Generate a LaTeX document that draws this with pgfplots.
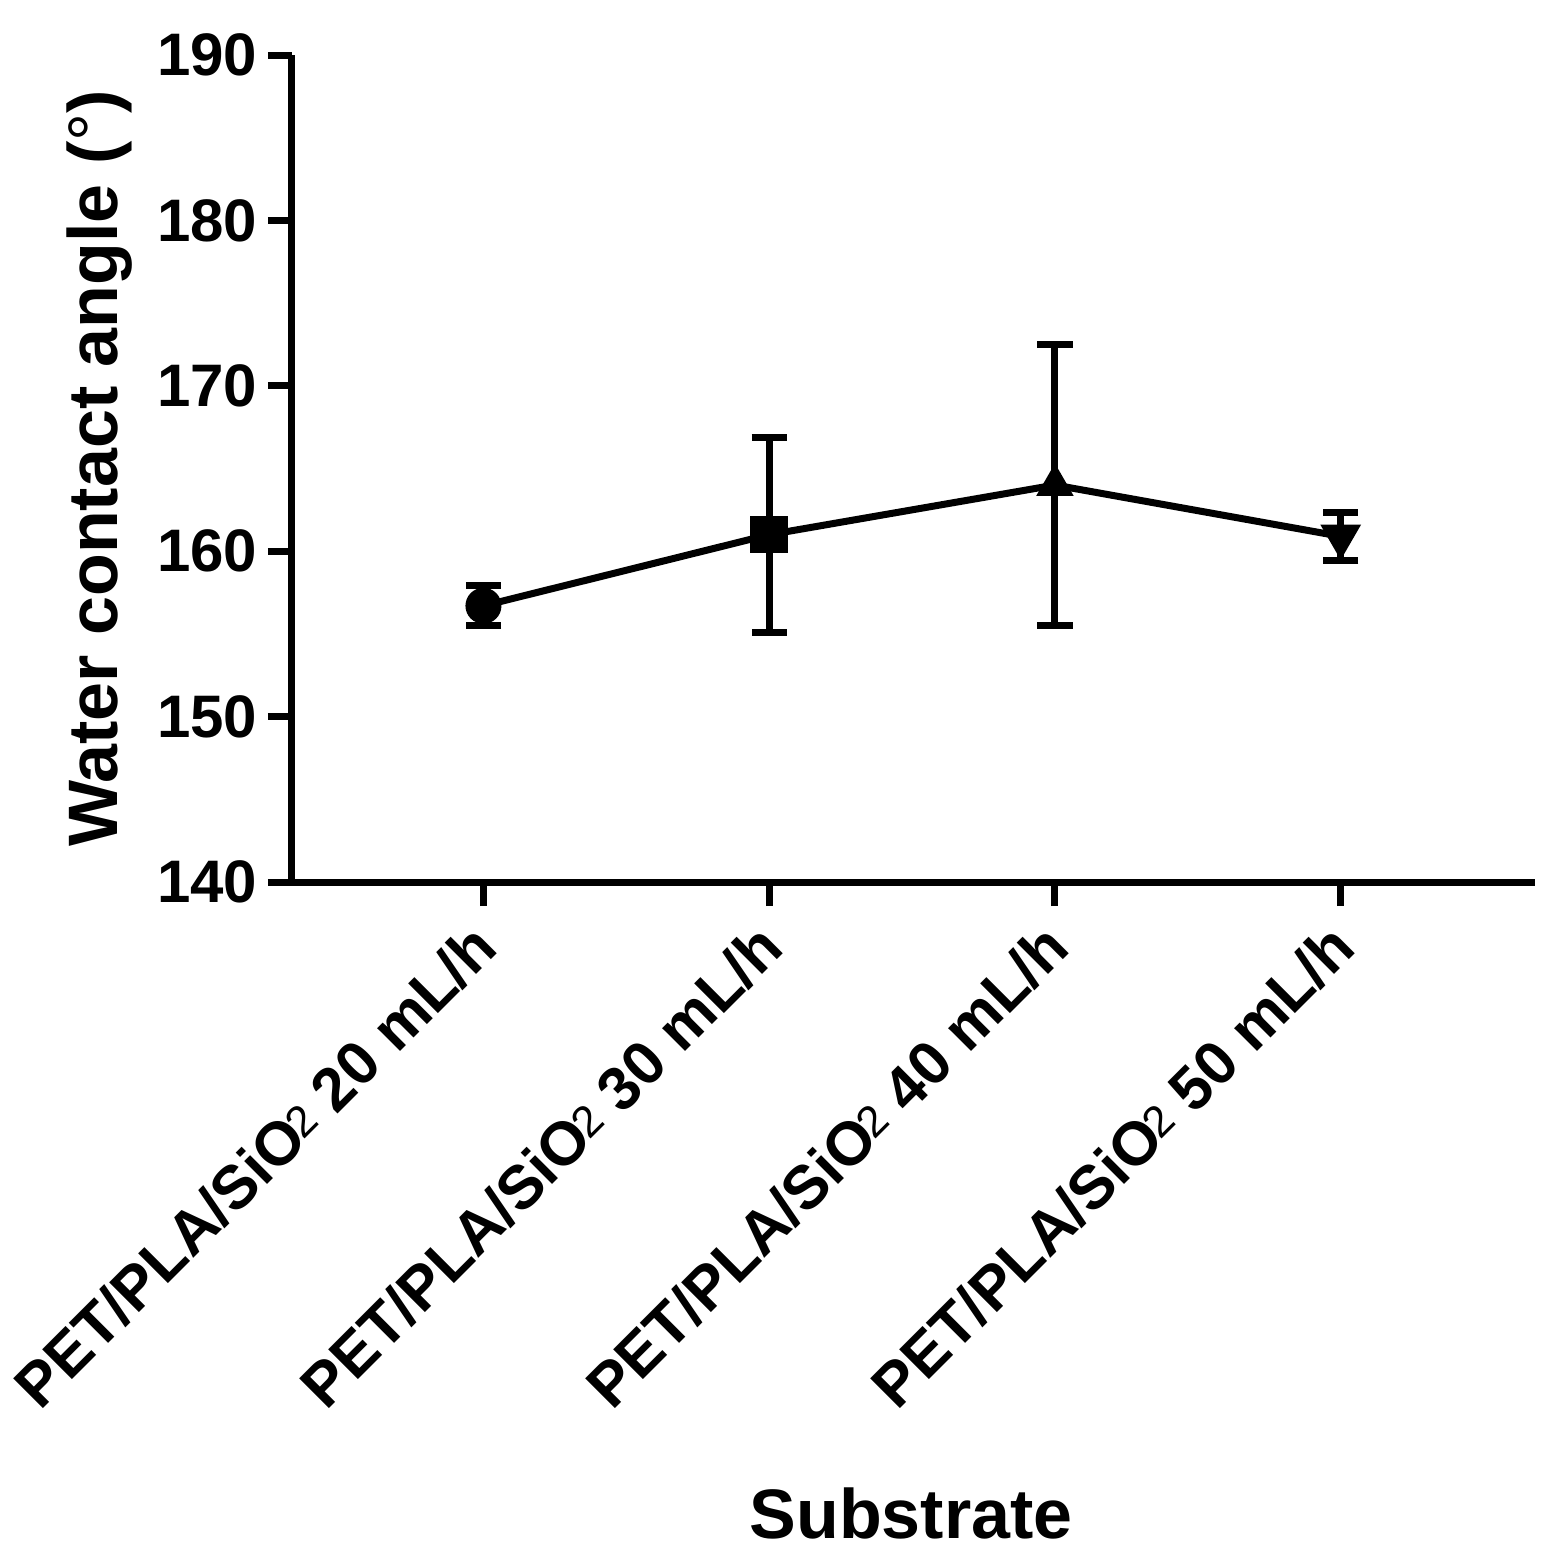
\documentclass[border=0pt]{standalone}
\usepackage{fontspec}
\setmainfont{Liberation Sans}
\usepackage{pgfplots}
\pgfplotsset{compat=1.18}
\newcommand{\sub}{\kern-0.8pt\raisebox{1.5pt}{\fontsize{11}{11}\selectfont\mdseries 2}}
\begin{document}
\begin{tikzpicture}
\path[use as bounding box] (-73pt,-168pt) rectangle (317.75pt,220.5pt);
\begin{axis}[
  at={(0,0)}, anchor=south west,
  scale only axis, width=310.75pt, height=206.75pt,
  xmin=-0.67, xmax=3.68, ymin=140, ymax=190,
  axis lines=left, axis line style={line width=1.75pt, -},
  xtick={0,1,2,3},
  xticklabels={PET/PLA/SiO\sub{} 20 mL/h, PET/PLA/SiO\sub{} 30 mL/h, PET/PLA/SiO\sub{} 40 mL/h, PET/PLA/SiO\sub{} 50 mL/h},
  ytick={140,150,...,190},
  tick align=outside, major tick length=6pt,
  tick style={line width=1.75pt, black},
  /pgf/number format/assume math mode=true,
  xticklabel style={font=\fontsize{15.3}{15.3}\selectfont\bfseries, xshift=2pt, yshift=-6pt, rotate=45, anchor=east, inner sep=2pt},
  yticklabel style={font=\fontsize{15}{15}\selectfont\bfseries, inner sep=2.5pt},
  ylabel={Water contact angle ({\mdseries °})},
  ylabel style={at={(axis description cs:-0.1545,0.5)}, anchor=center, font=\fontsize{17.5}{17.5}\selectfont\bfseries},
  xlabel={Substrate},
  xlabel style={at={(axis description cs:0.498,-0.763)}, anchor=center, font=\fontsize{17.5}{17.5}\selectfont\bfseries},
  clip=false,
]
\addplot[black, line width=1.75pt, mark=none,
  error bars/.cd, y dir=both, y explicit,
  error bar style={line width=1.75pt},
  error mark options={rotate=90, mark size=4.4pt, line width=1.75pt}]
  coordinates {
  (0,156.7) +- (0,1.2)
  (1,161.0) +- (0,5.9)
  (2,164.0) +- (0,8.5)
  (3,160.9) +- (0,1.45)
  };
\addplot[only marks, black, mark=*, mark size=4.3pt] coordinates {(0,156.7)};
\addplot[only marks, black, mark=square*, mark size=4.5pt] coordinates {(1,161.0)};
\addplot[only marks, black, mark=triangle*, mark size=5pt] coordinates {(2,164.0)};
\addplot[only marks, black, mark=triangle*, mark size=5.5pt, mark options={rotate=180}] coordinates {(3,160.9)};
\end{axis}
\end{tikzpicture}
\end{document}
